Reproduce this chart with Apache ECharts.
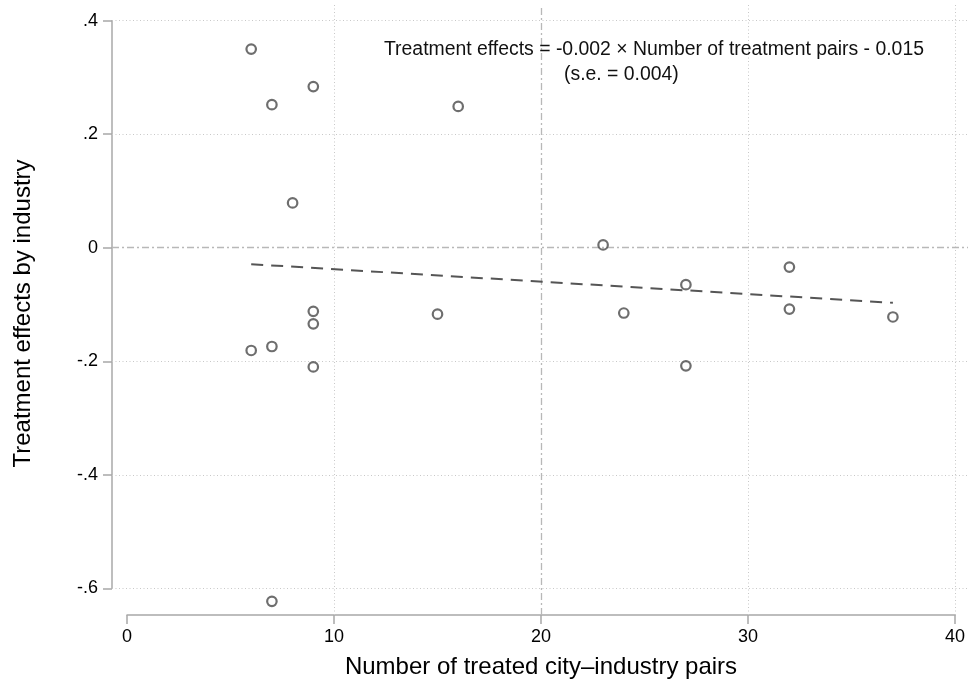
<!DOCTYPE html>
<html>
<head>
<meta charset="utf-8">
<script src="https://cdn.jsdelivr.net/npm/echarts@6/dist/echarts.min.js"></script>
<style>
html,body{margin:0;padding:0;background:#fff;}
#chart{width:971px;height:688px;}
</style>
</head>
<body>
<div id="chart"></div>
<script>
// ---- data ----
const treatedPairs = [6, 7, 9, 16, 8, 23, 27, 32, 9, 9, 15, 24, 32, 37, 6, 7, 9, 27, 7];
const treatmentEffects = [0.350, 0.252, 0.284, 0.249, 0.079, 0.005, -0.065, -0.034, -0.112, -0.134, -0.117, -0.115, -0.108, -0.122, -0.181, -0.174, -0.210, -0.208, -0.623];
const fitX = [6, 37];
const fitY = [-0.029, -0.097];
const xTicks = [0, 10, 20, 30, 40];
const yTicks = [-0.6, -0.4, -0.2, 0, 0.2, 0.4];
const yTickLabels = ['-.6', '-.4', '-.2', '0', '.2', '.4'];
const annotationLine1 = 'Treatment effects = -0.002 \u00d7 Number of treatment pairs - 0.015';
const annotationLine2 = '(s.e. = 0.004)';
const xTitle = 'Number of treated city\u2013industry pairs';
const yTitle = 'Treatment effects by industry';

// ---- layout ----
const FONT = "'Liberation Sans', Arial, sans-serif";
const W = 971, H = 688;
const plot = {left: 112, right: 968, top: 5, bottom: 615};   // data region (gridlines)
const axisPx = {x0: 127, x1: 955, yTop: 20.7, yBot: 588.3};    // pixel of first/last tick
const xMin = xTicks[0], xMax = xTicks[xTicks.length - 1];
const yMin = yTicks[0], yMax = yTicks[yTicks.length - 1];
const xPerPx = (xMax - xMin) / (axisPx.x1 - axisPx.x0);
const yPerPx = (yMax - yMin) / (axisPx.yBot - axisPx.yTop);
const dataXMin = xMin - (axisPx.x0 - plot.left) * xPerPx;
const dataXMax = xMax + (plot.right - axisPx.x1) * xPerPx;
const dataYMax = yMax + (axisPx.yTop - plot.top) * yPerPx;
const dataYMin = yMin - (plot.bottom - axisPx.yBot) * yPerPx;

const axisGray = '#a8a8a8';
const gridDot = {color: '#c8c8c8', width: 1, type: [1, 2.5]};
const refLine = {color: '#b8b8b8', width: 1.3, type: [7, 3, 2, 3]};

const points = treatedPairs.map((x, i) => [x, treatmentEffects[i]]);
const fitData = fitX.map((x, i) => [x, fitY[i]]);

const markData = [];
[0.4, 0.2, -0.2, -0.4, -0.6].forEach(v => markData.push({yAxis: v, lineStyle: gridDot}));
[10, 30, 40].forEach(v => markData.push({xAxis: v, lineStyle: gridDot}));
markData.push({yAxis: 0, lineStyle: refLine});
markData.push({xAxis: 20, lineStyle: refLine});

const chart = echarts.init(document.getElementById('chart'), null, {renderer: 'canvas'});
chart.setOption({
  animation: false,
  backgroundColor: '#fff',
  textStyle: {fontFamily: FONT},
  grid: [
    {left: plot.left, right: W - plot.right, top: plot.top, bottom: H - plot.bottom, containLabel: false},
    {left: axisPx.x0, right: W - axisPx.x1, top: axisPx.yTop, bottom: H - axisPx.yBot, containLabel: false}
  ],
  xAxis: [
    {gridIndex: 0, type: 'value', min: dataXMin, max: dataXMax, show: false, splitLine: {show: false}},
    {
      gridIndex: 1, type: 'value', min: xMin, max: xMax, interval: 10, position: 'bottom',
      offset: plot.bottom - axisPx.yBot,
      axisLine: {show: true, onZero: false, lineStyle: {color: axisGray, width: 1.5}},
      axisTick: {show: true, length: 9, lineStyle: {color: axisGray, width: 1.5}},
      axisLabel: {fontSize: 18, color: '#000', margin: 13, fontFamily: FONT},
      splitLine: {show: false},
      name: xTitle, nameLocation: 'middle', nameGap: 40,
      nameTextStyle: {fontSize: 24, color: '#000', fontFamily: FONT}
    }
  ],
  yAxis: [
    {gridIndex: 0, type: 'value', min: dataYMin, max: dataYMax, show: false, splitLine: {show: false}},
    {
      gridIndex: 1, type: 'value', min: yMin, max: yMax, interval: 0.2, position: 'left',
      offset: axisPx.x0 - plot.left,
      axisLine: {show: true, onZero: false, lineStyle: {color: axisGray, width: 1.5}},
      axisTick: {show: true, length: 9, lineStyle: {color: axisGray, width: 1.5}},
      axisLabel: {
        fontSize: 18, color: '#000', margin: 14, fontFamily: FONT,
        formatter: v => {
          let best = 0, d = Infinity;
          yTicks.forEach((t, i) => { if (Math.abs(t - v) < d) { d = Math.abs(t - v); best = i; } });
          return yTickLabels[best];
        }
      },
      splitLine: {show: false},
      name: yTitle, nameLocation: 'middle', nameGap: 77,
      nameTextStyle: {fontSize: 24, color: '#000', fontFamily: FONT, padding: [0, 18, 0, 0]}
    }
  ],
  series: [
    {
      type: 'line', xAxisIndex: 0, yAxisIndex: 0, data: fitData,
      symbol: 'none', silent: true, z: 3,
      lineStyle: {color: '#555555', width: 2, type: [12, 8]},
      markLine: {
        silent: true, symbol: ['none', 'none'], z: 1, animation: false,
        label: {show: false}, emphasis: {disabled: true},
        data: markData
      }
    },
    {
      type: 'scatter', xAxisIndex: 0, yAxisIndex: 0, data: points, clip: false, z: 4,
      symbol: 'circle', symbolSize: 9.5,
      itemStyle: {color: 'rgba(255,255,255,0)', borderColor: '#4a4a4a', borderWidth: 2.2}
    }
  ],
  graphic: [
    {type: 'text', x: 384, y: 50, z: 10,
      style: {text: annotationLine1, font: '19.4px ' + FONT, fill: '#111', verticalAlign: 'middle', align: 'left'}},
    {type: 'text', x: 564, y: 75, z: 10,
      style: {text: annotationLine2, font: '19.4px ' + FONT, fill: '#111', verticalAlign: 'middle', align: 'left'}}
  ]
});
</script>
</body>
</html>
